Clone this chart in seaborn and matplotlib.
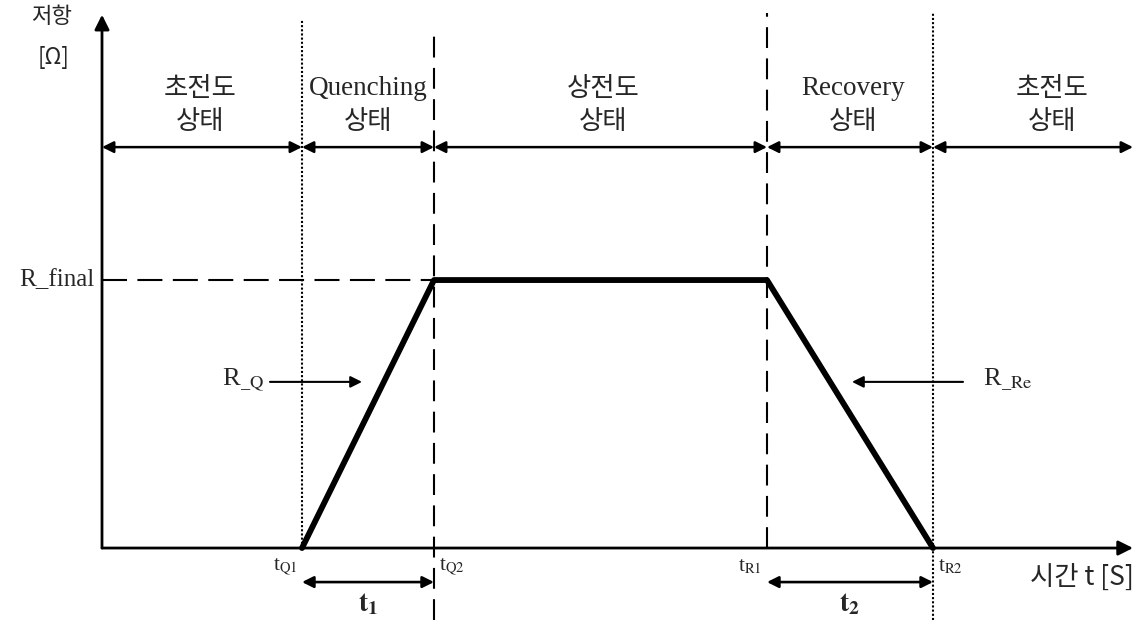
import numpy as np
import pandas as pd
import matplotlib
matplotlib.use("Agg")
import matplotlib.pyplot as plt
import seaborn as sns

# ---- data ----
boundary_times = [2.0, 3.32, 6.65, 8.31]          # tQ1, tQ2, tR1, tR2
boundary_labels = [r"t$_{\mathrm{Q1}}$", r"t$_{\mathrm{Q2}}$", r"t$_{\mathrm{R1}}$", r"t$_{\mathrm{R2}}$"]
curve_times = [2.0, 3.32, 6.65, 8.31]
curve_resistance = [0.0, 1.0, 1.0, 0.0]
r_final = 1.0
state_top = ["초전도", "Quenching", "상전도", "Recovery", "초전도"]
state_bottom = ["상태", "상태", "상태", "상태", "상태"]
state_centers = [0.98, 2.66, 5.01, 7.51, 9.50]
t_end = 10.31
y_top = 1.99

sns.set_theme(style="white")
plt.rcParams["font.family"] = ["Liberation Serif", "Noto Sans CJK KR", "DejaVu Sans"]
plt.rcParams["mathtext.fontset"] = "stix"

fig = plt.figure(figsize=(11.45, 6.22), dpi=100)
ax = fig.add_axes([0, 0, 1, 1])

K = "black"
kor = ["Noto Sans CJK KR", "DejaVu Sans"]
ser = ["Liberation Serif", "Noto Sans CJK KR"]

# axes arrows
ax.annotate("", xy=(0, y_top), xytext=(0, 0),
            arrowprops=dict(arrowstyle="-|>", mutation_scale=22, lw=2, color=K, shrinkA=0, shrinkB=0))
ax.annotate("", xy=(t_end, 0), xytext=(0, 0),
            arrowprops=dict(arrowstyle="-|>", mutation_scale=22, lw=2, color=K, shrinkA=0, shrinkB=0))

# vertical boundary lines
tq1, tq2, tr1, tr2 = boundary_times
ax.plot([tq1, tq1], [0, 1.97], color=K, lw=1.5, ls=(0, (1, 1)))
ax.plot([tq2, tq2], [-0.27, 1.944], color=K, lw=1.5, ls=(0, (10, 5)))
ax.plot([tr1, tr1], [0, 1.996], color=K, lw=1.5, ls=(0, (10, 5)))
ax.plot([tr2, tr2], [-0.27, 1.996], color=K, lw=1.5, ls=(0, (1, 1)))

# R_final dashed line
ax.plot([0, tq2], [r_final, r_final], color=K, lw=1.5, ls=(0, (12, 5)))

# resistance curve
df = pd.DataFrame({"t": curve_times, "R": curve_resistance})
sns.lineplot(data=df, x="t", y="R", ax=ax, color=K, lw=4.2, sort=False, estimator=None)
ax.set_xlim(-1.02, 10.43)
ax.set_ylim(-0.276, 2.045)
ax.axis("off")

# state arrows
edges = [0.0] + boundary_times + [t_end]
y_state = 1.496
for i in range(len(edges) - 1):
    ax.annotate("", xy=(edges[i + 1], y_state), xytext=(edges[i], y_state),
                arrowprops=dict(arrowstyle="<|-|>", mutation_scale=17, lw=1.8, color=K,
                                shrinkA=0, shrinkB=0))
for cx, top, bot in zip(state_centers, state_top, state_bottom):
    if top.isascii():
        ax.text(cx, 1.716, top, ha="center", va="center", fontsize=19.5, family=ser)
    else:
        ax.text(cx, 1.716, top, ha="center", va="center", fontsize=19, family=kor)
    ax.text(cx, 1.59, bot, ha="center", va="center", fontsize=19, family=kor)

# y label
ax.text(-0.5, 1.985, "저항", ha="center", va="center", fontsize=16, family=kor)
ax.text(-0.48, 1.83, "[Ω]", ha="center", va="center", fontsize=16, family=kor)
ax.text(-0.08, r_final, "R_final", ha="right", va="center", fontsize=18, family=ser)

# boundary tick labels
for t, lab, side in zip(boundary_times, boundary_labels, ["r", "l", "r", "l"]):
    if side == "r":
        ax.text(t - 0.05, -0.07, lab, ha="right", va="center", fontsize=15)
    else:
        ax.text(t + 0.05, -0.07, lab, ha="left", va="center", fontsize=15)

# x label
ax.text(9.8, -0.108, "시간 t [S]", ha="center", va="center", fontsize=19, family=kor)

# t1, t2 interval arrows
y_int = -0.127
for a, b, lab in [(tq1, tq2, r"$\mathbf{t_1}$"), (tr1, tr2, r"$\mathbf{t_2}$")]:
    ax.annotate("", xy=(b, y_int), xytext=(a, y_int),
                arrowprops=dict(arrowstyle="<|-|>", mutation_scale=17, lw=1.9, color=K,
                                shrinkA=0, shrinkB=0))
    ax.text((a + b) / 2, -0.21, lab, ha="center", va="center", fontsize=20)

# R_Q and R_Re pointers
y_ptr = 0.62
ax.annotate("", xy=(2.60, y_ptr), xytext=(1.68, y_ptr),
            arrowprops=dict(arrowstyle="-|>", mutation_scale=17, lw=1.5, color=K, shrinkA=0, shrinkB=0))
ax.text(1.62, 0.627, r"R$_{\_\mathrm{Q}}$", ha="right", va="center", fontsize=19)
ax.annotate("", xy=(7.50, y_ptr), xytext=(8.61, y_ptr),
            arrowprops=dict(arrowstyle="-|>", mutation_scale=17, lw=1.5, color=K, shrinkA=0, shrinkB=0))
ax.text(8.81, 0.627, r"R$_{\_\mathrm{Re}}$", ha="left", va="center", fontsize=19)

fig.savefig("out.png", dpi=100)
